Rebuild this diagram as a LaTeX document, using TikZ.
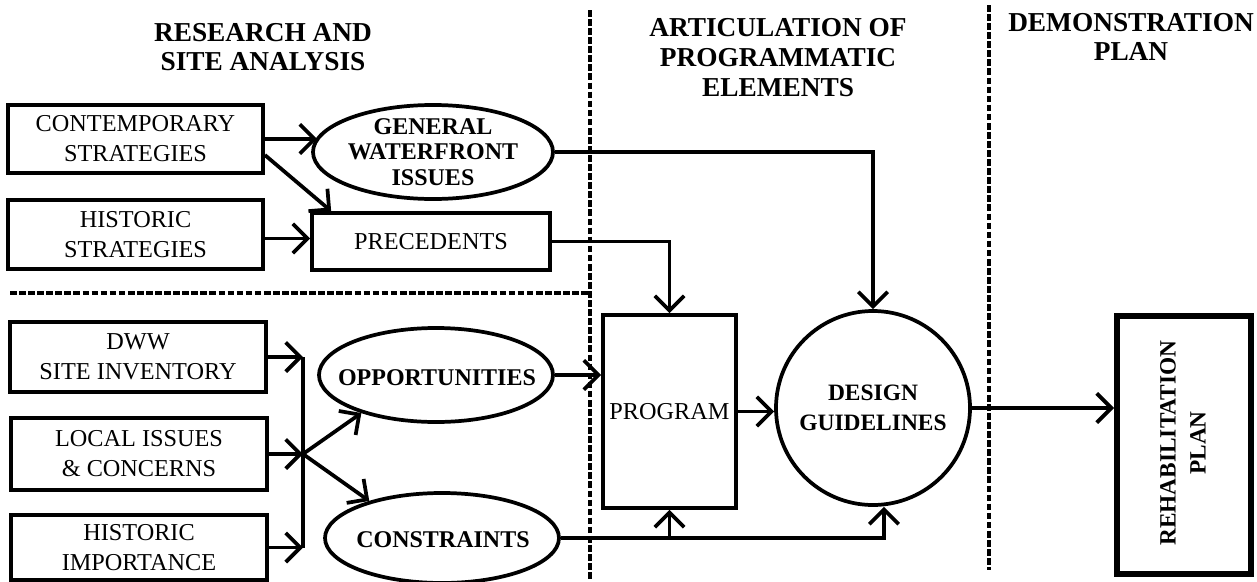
\documentclass[tikz,border=0pt]{standalone}
\usepackage{fontspec}
\setmainfont{Liberation Serif}
\usetikzlibrary{arrows.meta,shapes.geometric,calc}
\begin{document}
\begin{tikzpicture}[x=0.75pt,y=-0.75pt,
  ln/.style={line width=2.8pt},
  arr/.style={ln,-{Straight Barb[length=11pt,width=22pt]}},
  box/.style={draw,line width=2.8pt,rectangle,inner sep=0pt,align=center,font=\fontsize{18.2}{22.5}\selectfont},
  oval/.style={draw,line width=2.8pt,ellipse,inner sep=0pt},
  btxt/.style={align=center,font=\bfseries\fontsize{18}{19}\selectfont,inner sep=0pt},
  title/.style={align=center,font=\bfseries\fontsize{20.5}{21.5}\selectfont,inner sep=0pt},
  sep/.style={line width=2.6pt,dash pattern=on 5pt off 1.8pt}
]
\useasboundingbox (0,0) rectangle (1257,582);

% separators
\draw[sep] (10,293) -- (590,293);
\draw[sep] (590,10) -- (590,580);
\draw[sep] (989,5) -- (989,570);

% titles
\node[title] (t1) at (263,47) {RESEARCH AND\\SITE ANALYSIS};
\node[title,font=\bfseries\fontsize{20.5}{22.5}\selectfont] (t2) at (778,58) {ARTICULATION OF\\PROGRAMMATIC\\ELEMENTS};
\node[title] (t3) at (1131,37) {DEMONSTRATION\\PLAN};

% upper left
\node[box,minimum width=191.25pt,minimum height=51pt] (cs) at (135.5,139) {CONTEMPORARY\\STRATEGIES};
\node[box,minimum width=191.25pt,minimum height=51.75pt] (hs) at (135.5,234.5) {HISTORIC\\STRATEGIES};
\node[oval,minimum width=180pt,minimum height=70.5pt] (gwi) at (433,152) {};
\node[btxt] (gwit) at (gwi) {GENERAL\\WATERFRONT\\ISSUES};
\node[box,minimum width=178.5pt,minimum height=42.75pt] (prec) at (431,241.5) {PRECEDENTS};

% lower left
\node[box,minimum width=192pt,minimum height=52.5pt] (dww) at (138,357) {DWW\\SITE INVENTORY};
\node[box,minimum width=192pt,minimum height=54pt] (li) at (139,454) {LOCAL ISSUES\\\& CONCERNS};
\node[box,minimum width=192pt,minimum height=48.75pt] (hi) at (139,547.5) {HISTORIC\\IMPORTANCE};
\node[oval,minimum width=175.5pt,minimum height=70.5pt] (opp) at (436,375) {};
\node[btxt] (oppt) at (437,378) {OPPORTUNITIES};
\node[oval,minimum width=175.5pt,minimum height=67.5pt] (con) at (442,538) {};
\node[btxt] (cont) at (443,540) {CONSTRAINTS};
\coordinate (bus) at (303,454);

% middle
\node[box,minimum width=99.75pt,minimum height=144.75pt] (prog) at (669.5,411.5) {PROGRAM};
\node[draw,circle,line width=2.8pt,minimum size=145.5pt,inner sep=0pt,align=center,font=\bfseries\fontsize{17.6}{22}\selectfont] (dg) at (873,408) {DESIGN\\GUIDELINES};

% right
\node[draw,rectangle,line width=4.5pt,minimum width=100.5pt,minimum height=193.5pt] (rh) at (1184,445) {};
\node[btxt,rotate=90,font=\bfseries\fontsize{17.5}{22.5}\selectfont] (rht) at (1183,443) {REHABILITATION\\PLAN};

% connectors
\draw[arr] (cs.east) -- ($(cs.east -| gwi.west)+(6,0)$);
\draw[arr] ($(cs.east)+(0,16)$) -- ($(prec.north west)+(21,0)$);
\draw[arr] ($(hs.east)+(0,4)$) -- ($(hs.east -| prec.west)+(0,4)$);
\draw[arr] (prec.east) -| (prog.north);
\draw[arr] (gwi.east) -| (dg.north);
\draw[arr] (opp.east) -- (opp.east -| prog.west);
\draw[arr] (prog.east) -- (prog.east -| dg.west);
\draw[arr] (con.east) -| (prog.south);
\draw[arr] (con.east) -| ($(dg.south)+(11,0)$);
\draw[arr] (dg.east) -- (dg.east -| rh.west);
\draw[ln] (dww.east -| bus) -- (hi.east -| bus);
\draw[arr] (dww.east) -- (dww.east -| bus);
\draw[arr] (li.east) -- (bus);
\draw[arr] (hi.east) -- (hi.east -| bus);
\draw[arr] (bus) -- (opp.207);
\draw[arr] (bus) -- (con.153);
\end{tikzpicture}
\end{document}
